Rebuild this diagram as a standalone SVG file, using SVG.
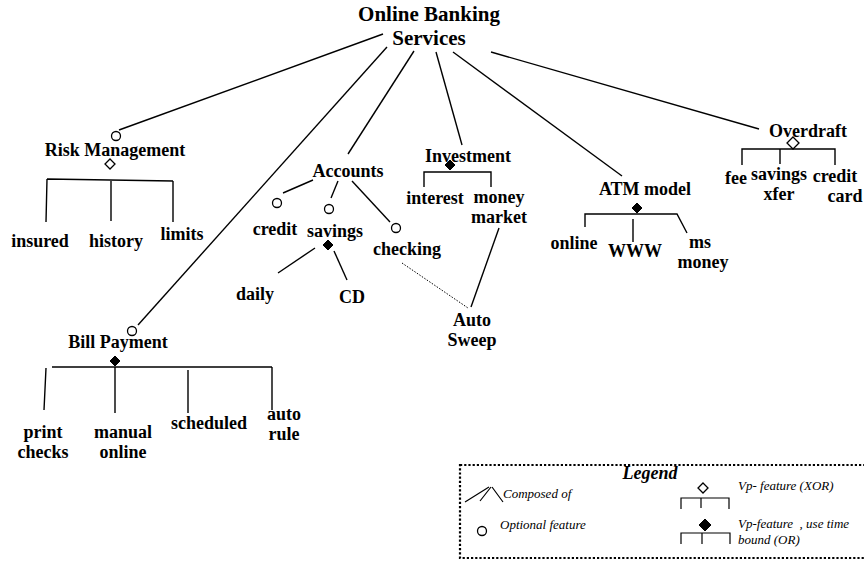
<svg xmlns="http://www.w3.org/2000/svg" width="864" height="561" viewBox="0 0 864 561">
<style>
text{font-family:"Liberation Serif","Times New Roman",serif;fill:#000}
.n{font-size:18px;font-weight:bold;text-anchor:middle}
.t{font-size:21px;font-weight:bold;text-anchor:middle}
.lg{font-size:13px;font-style:italic}
.ln{stroke:#000;stroke-width:1.4;fill:none}
.dot{stroke:#000;stroke-width:1;fill:none;stroke-dasharray:1.5 1.5}
.opt{stroke:#000;stroke-width:1.3;fill:#fff}
.xor{stroke:#000;stroke-width:1.3;fill:#fff}
.or{stroke:#000;stroke-width:1;fill:#000}
</style>
<rect width="864" height="561" fill="#fff"/>
<g id="connectors">
<line class="ln" x1="383" y1="34" x2="119" y2="130"/>
<line class="ln" x1="387" y1="47" x2="138" y2="325"/>
<line class="ln" x1="414" y1="51" x2="348" y2="154"/>
<line class="ln" x1="436" y1="52" x2="462" y2="145"/>
<line class="ln" x1="453" y1="52" x2="622" y2="176"/>
<line class="ln" x1="491" y1="52" x2="759" y2="129"/>
<line class="ln" x1="313" y1="180" x2="283" y2="193"/>
<line class="ln" x1="338" y1="181" x2="331" y2="198"/>
<line class="ln" x1="352" y1="181" x2="390" y2="222"/>
<line class="ln" x1="315" y1="248" x2="278" y2="273"/>
<line class="ln" x1="334" y1="251" x2="347" y2="280"/>
<line class="dot" x1="402" y1="263" x2="468" y2="308"/>
<line class="ln" x1="499" y1="228" x2="471" y2="307"/>
</g>
<g id="root"><text class="t" x="429" y="21">Online Banking</text><text class="t" x="429" y="45">Services</text></g>
<g id="risk">
<circle class="opt" cx="116" cy="136" r="4.5"/>
<text class="n" x="115" y="156">Risk Management</text>
<path class="xor" d="M110 159 L115 164 L110 169 L105 164 Z"/>
<path class="ln" d="M47 179 L173 181 M47 179 L46 222 M111 180 L111 221 M173 181 L173 222"/>
</g>
<g id="insured"><text class="n" x="40" y="247">insured</text></g>
<g id="history"><text class="n" x="116" y="247">history</text></g>
<g id="limits"><text class="n" x="182" y="240">limits</text></g>
<g id="bill">
<circle class="opt" cx="132" cy="331" r="4.5"/>
<text class="n" x="118" y="348">Bill Payment</text>
<path class="or" d="M115 356 L120 361 L115 366 L110 361 Z"/>
<path class="ln" d="M52 367 L272 367 M46 368 L44 410 M115 367 L115 413 M188 370 L188 413 M272 367 L272 410"/>
</g>
<g id="print"><text class="n" x="43" y="438">print</text><text class="n" x="43" y="458">checks</text></g>
<g id="manual"><text class="n" x="123" y="438">manual</text><text class="n" x="123" y="458">online</text></g>
<g id="scheduled"><text class="n" x="209" y="429">scheduled</text></g>
<g id="auto"><text class="n" x="284" y="420">auto</text><text class="n" x="284" y="440">rule</text></g>
<g id="accounts"><text class="n" x="348" y="177">Accounts</text></g>
<g id="credit"><circle class="opt" cx="277" cy="203" r="4.5"/><text class="n" x="275" y="235">credit</text></g>
<g id="savings">
<circle class="opt" cx="329" cy="209" r="4.5"/>
<text class="n" x="335" y="237">savings</text>
<path class="or" d="M328 240 L333 245 L328 250 L323 245 Z"/>
</g>
<g id="daily"><text class="n" x="255" y="300">daily</text></g>
<g id="cd"><text class="n" x="352" y="303">CD</text></g>
<g id="checking"><circle class="opt" cx="396" cy="228" r="4.5"/><text class="n" x="407" y="255">checking</text></g>
<g id="investment">
<text class="n" x="468" y="162">Investment</text>
<path class="ln" d="M424 187 L424 172 L491 172 L491 187"/>
<path class="or" d="M450 160 L455 165 L450 170 L445 165 Z"/>
</g>
<g id="interest"><text class="n" x="435" y="204">interest</text></g>
<g id="money"><text class="n" x="499" y="203">money</text><text class="n" x="499" y="223">market</text></g>
<g id="sweep"><text class="n" x="472" y="326">Auto</text><text class="n" x="472" y="346">Sweep</text></g>
<g id="atm">
<text class="n" x="645" y="195">ATM model</text>
<path class="or" d="M637 203 L642 208 L637 213 L632 208 Z"/>
<path class="ln" d="M585 227 L585 214 L677 214 L687 233 M633 219 L633 242"/>
</g>
<g id="online"><text class="n" x="574" y="249">online</text></g>
<g id="www"><text class="n" x="635" y="257">WWW</text></g>
<g id="ms"><text class="n" x="700" y="248">ms</text><text class="n" x="703" y="268">money</text></g>
<g id="overdraft">
<text class="n" x="808" y="137">Overdraft</text>
<path class="ln" d="M742 165 L742 149 L835 149 L835 165 M780 149 L780 164"/>
<path class="xor" d="M793 137 L799 143 L793 149 L787 143 Z"/>
</g>
<g id="fee"><text class="n" x="736" y="184">fee</text></g>
<g id="xfer"><text class="n" x="779" y="180">savings</text><text class="n" x="779" y="200">xfer</text></g>
<g id="cc"><text class="n" x="835" y="182">credit</text><text class="n" x="845" y="202">card</text></g>
<g id="legend">
<rect x="460" y="465" width="420" height="93" fill="none" stroke="#000" stroke-width="2.2" stroke-dasharray="2.2 2"/>
<text x="650" y="479" style="font-size:18px;font-weight:bold;font-style:italic;text-anchor:middle">Legend</text>
<path class="ln" d="M465 502 L489 487 M480 501 L491 487 M492 487 L503 502" style="stroke-width:1.2"/>
<text class="lg" x="503" y="498">Composed of</text>
<circle class="opt" cx="482" cy="531" r="4.5"/>
<text class="lg" x="500" y="529">Optional feature</text>
<path class="xor" d="M703 483 L708 488 L703 493 L698 488 Z"/>
<path class="ln" d="M681 509 L681 498 L729 498 L729 509 M701 498 L701 508" style="stroke-width:1.2"/>
<text class="lg" x="738" y="490">Vp- feature (XOR)</text>
<path class="or" d="M705 519 L711 525 L705 531 L699 525 Z"/>
<path class="ln" d="M681 544 L681 533 L730 533 L730 544 M702 533 L702 544" style="stroke-width:1.2"/>
<text class="lg" x="738" y="528" xml:space="preserve">Vp-feature  , use time</text>
<text class="lg" x="738" y="544">bound (OR)</text>
</g>
</svg>
